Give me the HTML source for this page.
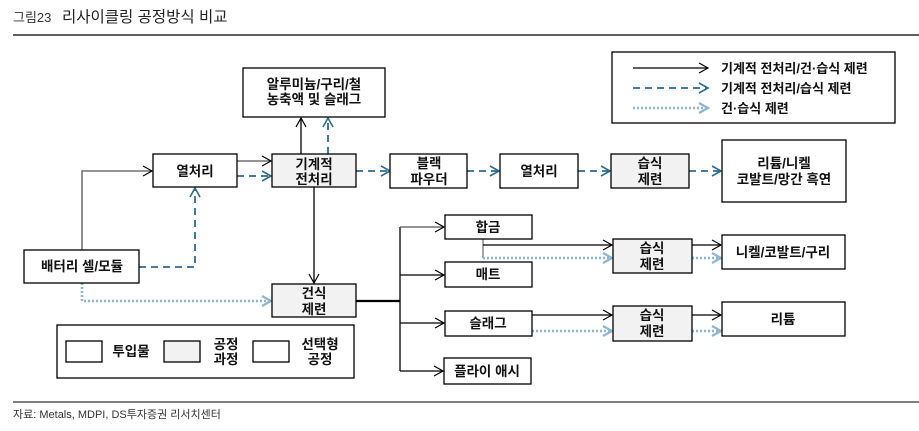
<!DOCTYPE html>
<html><head><meta charset="utf-8"><style>
body{margin:0;background:#fff;}
svg text{font-family:"Liberation Sans","Noto Sans CJK KR",sans-serif;}
</style></head><body>
<svg width="919" height="426" viewBox="0 0 919 426" xmlns="http://www.w3.org/2000/svg">
<defs>
<marker id="ab" markerWidth="12" markerHeight="12" refX="10" refY="6" orient="auto" markerUnits="userSpaceOnUse"><path d="M1,1 L10,6 L1,11" fill="none" stroke="#000" stroke-width="1.2"/></marker>
<marker id="ad" markerWidth="12" markerHeight="12" refX="10" refY="6" orient="auto" markerUnits="userSpaceOnUse"><path d="M1,1 L10,6 L1,11" fill="none" stroke="#2e6a8e" stroke-width="1.6"/></marker>
<marker id="ao" markerWidth="12" markerHeight="12" refX="10" refY="6" orient="auto" markerUnits="userSpaceOnUse"><path d="M1,1 L10,6 L1,11" fill="none" stroke="#8eb4cf" stroke-width="2.2"/></marker>
</defs>
<text x="13" y="22" font-size="13" fill="#333">그림23</text>
<text x="62" y="22" font-size="15.5" fill="#222">리사이클링 공정방식 비교</text>
<line x1="13" y1="35" x2="919" y2="35" stroke="#000" stroke-width="1.3"/>
<line x1="13" y1="402" x2="919" y2="402" stroke="#000" stroke-width="1"/>
<text x="13" y="418" font-size="11" fill="#333">자료: Metals, MDPI, DS투자증권 리서치센터</text>

<g fill="none" stroke-width="1.3">
<g stroke="#000">
<polyline points="82,250 82,171 152,171" marker-end="url(#ab)" stroke="#555"/>
<line x1="237" y1="161" x2="271" y2="161" marker-end="url(#ab)" stroke="#555"/>
<line x1="301" y1="154" x2="301" y2="118" marker-end="url(#ab)"/>
<line x1="314" y1="187" x2="314" y2="283" marker-end="url(#ab)"/>
<line x1="356" y1="301" x2="400" y2="301" stroke-width="2.2"/>
<line x1="400" y1="227" x2="400" y2="371"/>
<line x1="400" y1="227" x2="444" y2="227" marker-end="url(#ab)" stroke="#555"/>
<line x1="400" y1="275" x2="444" y2="275" marker-end="url(#ab)"/>
<line x1="400" y1="323" x2="444" y2="323" marker-end="url(#ab)"/>
<line x1="400" y1="371" x2="443" y2="371" marker-end="url(#ab)"/>
<polyline points="483,239 483,258" stroke="#777"/>
<line x1="483" y1="245" x2="612" y2="245" marker-end="url(#ab)"/>
<line x1="692" y1="245" x2="721" y2="245" marker-end="url(#ab)"/>
<line x1="532" y1="315" x2="612" y2="315" marker-end="url(#ab)"/>
<line x1="692" y1="315" x2="721" y2="315" marker-end="url(#ab)"/>
<line x1="633" y1="68" x2="708" y2="68" marker-end="url(#ab)"/>
</g>
<g stroke="#2e6a8e" stroke-width="1.8" stroke-dasharray="7,5">
<polyline points="139,267 195,267 195,188" marker-end="url(#ad)"/>
<line x1="237" y1="176" x2="271" y2="176" marker-end="url(#ad)"/>
<line x1="328" y1="154" x2="328" y2="118" marker-end="url(#ad)"/>
<line x1="356" y1="171" x2="390" y2="171" marker-end="url(#ad)"/>
<line x1="467" y1="171" x2="499" y2="171" marker-end="url(#ad)"/>
<line x1="578" y1="171" x2="610" y2="171" marker-end="url(#ad)"/>
<line x1="689" y1="171" x2="721" y2="171" marker-end="url(#ad)"/>
<line x1="633" y1="88" x2="708" y2="88" marker-end="url(#ad)"/>
</g>
<g stroke="#8eb4cf" stroke-width="2.6" stroke-dasharray="2,2">
<polyline points="82,283 82,301 271,301" marker-end="url(#ao)"/>
<line x1="483" y1="258" x2="612" y2="258" marker-end="url(#ao)"/>
<line x1="692" y1="258" x2="721" y2="258" marker-end="url(#ao)"/>
<line x1="532" y1="331" x2="612" y2="331" marker-end="url(#ao)"/>
<line x1="692" y1="331" x2="721" y2="331" marker-end="url(#ao)"/>
<line x1="633" y1="108" x2="708" y2="108" marker-end="url(#ao)"/>
</g>
</g>

<g stroke="#000" stroke-width="1.3" fill="#fff">
<rect x="243" y="68" width="142" height="49"/>
<rect x="153" y="154" width="84" height="33"/>
<rect x="272" y="154" width="84" height="33" fill="#f2f2f2"/>
<rect x="390" y="154" width="77" height="34"/>
<rect x="500" y="154" width="78" height="34"/>
<rect x="611" y="154" width="78" height="34" fill="#f2f2f2"/>
<rect x="722" y="140" width="124" height="62"/>
<rect x="24" y="250" width="115" height="33"/>
<rect x="272" y="284" width="84" height="33" fill="#f2f2f2"/>
<rect x="445" y="215" width="87" height="24"/>
<rect x="445" y="262" width="87" height="25"/>
<rect x="445" y="311" width="87" height="25"/>
<rect x="444" y="358" width="87" height="26"/>
<rect x="613" y="239" width="79" height="34" fill="#f2f2f2"/>
<rect x="613" y="306" width="79" height="35" fill="#f2f2f2"/>
<rect x="722" y="235" width="123" height="34"/>
<rect x="722" y="302" width="123" height="34"/>
<rect x="612" y="52" width="283" height="71" fill="none"/>
<rect x="57" y="325" width="297" height="53"/>
<rect x="66" y="341" width="36" height="21"/>
<rect x="164" y="341" width="36" height="21" fill="#f2f2f2"/>
<rect x="253" y="341" width="36" height="21"/>
</g>

<g font-size="13.5" font-weight="bold" fill="#111" text-anchor="middle">
<text x="314" y="89">알루미늄/구리/철</text>
<text x="314" y="104">농축액 및 슬래그</text>
<text x="195" y="176">열처리</text>
<text x="314" y="169">기계적</text>
<text x="314" y="184">전처리</text>
<text x="429" y="168">블랙</text>
<text x="429" y="184">파우더</text>
<text x="539" y="176">열처리</text>
<text x="650" y="168">습식</text>
<text x="650" y="184">제련</text>
<text x="784" y="168">리튬/니켈</text>
<text x="784" y="184">코발트/망간 흑연</text>
<text x="82" y="271">배터리 셀/모듈</text>
<text x="314" y="298">건식</text>
<text x="314" y="314">제련</text>
<text x="488" y="232">합금</text>
<text x="488" y="279">매트</text>
<text x="488" y="328">슬래그</text>
<text x="487" y="376">플라이 애시</text>
<text x="652" y="253">습식</text>
<text x="652" y="269">제련</text>
<text x="652" y="320">습식</text>
<text x="652" y="336">제련</text>
<text x="783" y="257">니켈/코발트/구리</text>
<text x="783" y="324">리튬</text>
<text x="131" y="356">투입물</text>
<text x="226" y="349">공정</text>
<text x="226" y="364">과정</text>
<text x="320" y="349">선택형</text>
<text x="320" y="364">공정</text>
</g>
<g font-size="13" font-weight="bold" fill="#111">
<text x="721" y="73">기계적 전처리/건·습식 제련</text>
<text x="721" y="93">기계적 전처리/습식 제련</text>
<text x="721" y="113">건·습식 제련</text>
</g>
</svg>
</body></html>
